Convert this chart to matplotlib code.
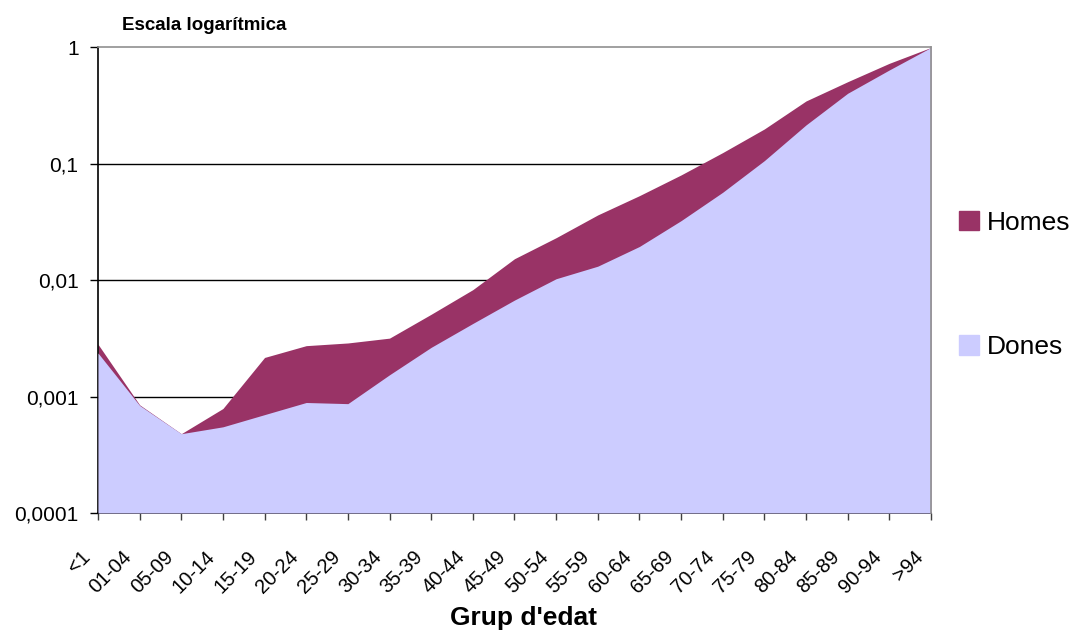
import matplotlib.pyplot as plt
from matplotlib.patches import Patch
from matplotlib.transforms import ScaledTranslation

plt.rcParams['font.family'] = ['Liberation Sans', 'DejaVu Sans']

ages = ['<1', '01-04', '05-09', '10-14', '15-19', '20-24', '25-29', '30-34', '35-39', '40-44',
        '45-49', '50-54', '55-59', '60-64', '65-69', '70-74', '75-79', '80-84', '85-89', '90-94', '>94']
homes = [0.00282, 0.00085, 0.00048, 0.00079, 0.00217, 0.00274, 0.00289, 0.00318, 0.0051, 0.0083,
         0.0153, 0.0232, 0.0364, 0.0533, 0.0803, 0.125, 0.1995, 0.347, 0.508, 0.731, 1.0]
dones = [0.00237, 0.00084, 0.00048, 0.00055, 0.0007, 0.00089, 0.00087, 0.00154, 0.00265, 0.00425,
         0.00675, 0.0103, 0.0132, 0.0195, 0.0325, 0.057, 0.1066, 0.216, 0.404, 0.641, 1.0]
yticks = [0.0001, 0.001, 0.01, 0.1, 1]
ytick_labels = ['0,0001', '0,001', '0,01', '0,1', '1']

c_homes = '#993366'
c_dones = '#CCCCFF'
ymin = 0.0001

fig = plt.figure(figsize=(10.79, 6.33), dpi=100)
ax = fig.add_axes([0.0908, 0.1896, 0.772, 0.7354])

x = list(range(len(ages)))
ax.set_yscale('log')
ax.set_ylim(ymin, 1)
ax.set_xlim(0, len(ages) - 1)

for t in yticks[1:-1]:
    ax.axhline(t, color='black', lw=1.0, zorder=1)

ax.fill_between(x, homes, ymin, color=c_homes, lw=0, zorder=2)
ax.fill_between(x, dones, ymin, color=c_dones, lw=0, zorder=3)

ax.set_yticks(yticks)
ax.set_yticklabels(ytick_labels, fontsize=15)
ax.minorticks_off()
ax.tick_params(axis='y', direction='out', length=6, width=1, pad=8, color='black')

ax.set_xticks(x)
ax.set_xticklabels(ages, fontsize=14.5, rotation=45, ha='right', va='center', rotation_mode='anchor')
ax.tick_params(axis='x', direction='out', length=5, width=1, pad=0, color='#404040')
offset = ScaledTranslation(-11 / 100, -34 / 100, fig.dpi_scale_trans)
for lbl in ax.get_xticklabels():
    lbl.set_transform(lbl.get_transform() + offset)

for side in ['left', 'bottom']:
    ax.spines[side].set_color('black')
    ax.spines[side].set_linewidth(1.2)
for side in ['top', 'right']:
    ax.spines[side].set_color('#909090')
    ax.spines[side].set_linewidth(1.2)
    ax.spines[side].set_zorder(4)

fig.text(122 / 1079, 1 - 25 / 633, 'Escala logarítmica', fontsize=13.5, fontweight='bold',
         ha='left', va='center')
fig.text(524 / 1079, 1 - 618 / 633, "Grup d'edat", fontsize=19, fontweight='bold',
         ha='center', va='center')

handles = [Patch(color=c_homes, label='Homes'), Patch(color=c_dones, label='Dones')]
fig.legend(handles=handles, loc='center left', bbox_to_anchor=(946 / 1079, 1 - 285 / 633),
           frameon=False, fontsize=19, handlelength=0.75, handleheight=0.75,
           handletextpad=0.3, labelspacing=3.8, borderpad=0)

fig.savefig('out.png', dpi=100)
